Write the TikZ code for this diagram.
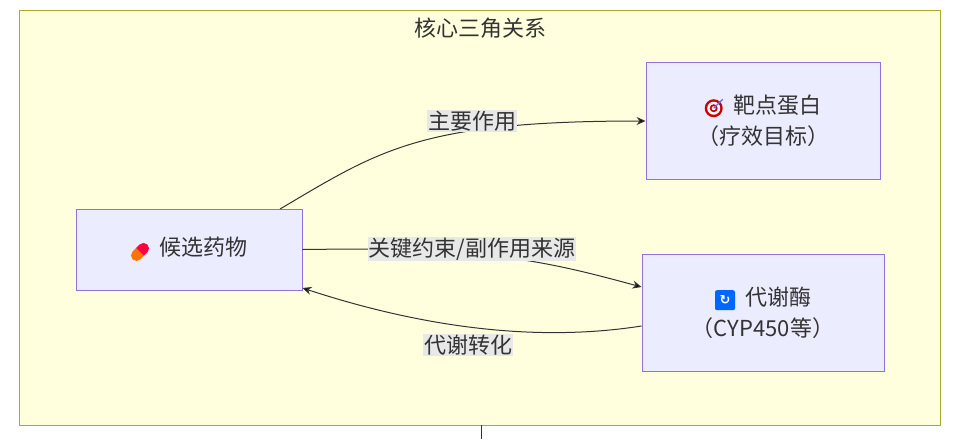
\documentclass[tikz,border=0pt]{standalone}
\usepackage{fontspec}
\setmainfont{Noto Sans CJK SC}
\usetikzlibrary{arrows.meta}
\definecolor{clfill}{HTML}{FFFFDE}
\definecolor{clborder}{HTML}{AAAA33}
\definecolor{nfill}{HTML}{ECECFF}
\definecolor{nborder}{HTML}{9370DB}
\definecolor{lbl}{HTML}{E8E8E8}
\definecolor{edge}{HTML}{333333}
\newcommand{\pillicon}{\tikz[baseline=-4pt,x=1pt,y=1pt]{\begin{scope}[rotate=45]
 \fill[orange!90!red] (0,-5.5) -- (-5,-5.5) arc (270:90:5.5) -- (0,5.5) -- cycle;
 \fill[red!75!magenta] (0,-5.5) -- (5,-5.5) arc (-90:90:5.5) -- (0,5.5) -- cycle;\end{scope}}}
\newcommand{\targeticon}{\tikz[baseline=-5pt,x=1pt,y=1pt]{
 \fill[red!80!black] (0,0) circle (9);
 \fill[white] (0,0) circle (6.5);
 \fill[red!80!black] (0,0) circle (4);
 \fill[white] (0,0) circle (2);
 \draw[blue!60,line width=1.2pt] (0,0) -- (9,9);}}
\newcommand{\refreshicon}{\tikz[baseline=-5pt,x=1pt,y=1pt]{
 \fill[blue!60!cyan,rounded corners=2pt] (-10,-10) rectangle (10,10);
 \node[draw=none,fill=none,minimum width=0pt,minimum height=0pt,inner sep=0pt,text=white,font=\fontspec{DejaVu Sans}\bfseries\fontsize{13}{13}\selectfont] at (0,0) {↻};}}
\tikzset{
  box/.style={draw=nborder,fill=nfill,line width=0.9pt,align=center,font=\fontsize{22}{31}\selectfont,text=edge},
  conn/.style={draw=edge,line width=1pt,-{Stealth[length=9pt,width=8pt]}},
  elabel/.style={fill=lbl,font=\fontsize{22}{25}\selectfont,text=edge,inner sep=1pt}
}
\begin{document}
\begin{tikzpicture}[x=1pt,y=-1pt]
\useasboundingbox (0,0) rectangle (957,439);
\fill[white] (0,0) rectangle (957,439);
\draw[clborder,fill=clfill,line width=0.9pt] (19,10) rectangle (940,425);
\node[font=\fontsize{22}{25}\selectfont,text=edge] (title) at (480,28) {核心三角关系};
\coordinate (out) at (481,439);
\coordinate (outtop) at (481,425);
\draw[edge,line width=1pt] (outtop) -- (out);
\node[box,minimum width=226pt,minimum height=81pt] (drug) at (189,249.5) {\pillicon\hspace{10pt}候选药物};
\node[box,minimum width=234pt,minimum height=117pt] (target) at (763,120.5) {\targeticon\hspace{10pt}靶点蛋白\\（疗效目标）};
\node[box,minimum width=242pt,minimum height=117pt] (enz) at (763,312.5) {\refreshicon\hspace{10pt}代谢酶\\（CYP450等）};
\draw[conn] (280,209) .. controls (380,150) and (420,121) .. (target.west |- 0,121);
\draw[conn] (drug.east) -- (350,249) .. controls (500,249) and (560,265) .. (enz.west |- 0,287);
\draw[conn] (enz.west |- 0,326) .. controls (520,345) and (400,320) .. (drug.east |- 0,288);
\node[elabel] (l1) at (472,121) {主要作用};
\node[elabel] (l2) at (472,249) {关键约束/副作用来源};
\node[elabel] (l3) at (468,345) {代谢转化};
\end{tikzpicture}
\end{document}
